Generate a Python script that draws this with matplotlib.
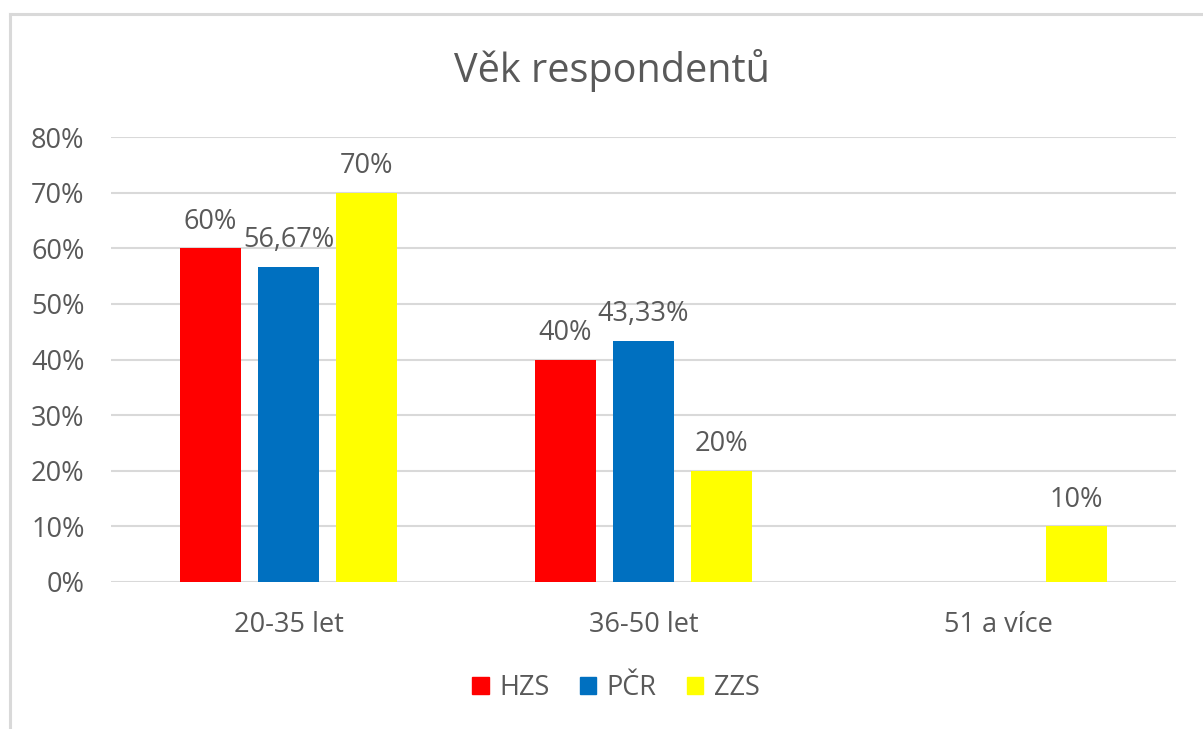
import matplotlib.pyplot as plt
from matplotlib.patches import Rectangle
import matplotlib.ticker as mticker

plt.rcParams['font.family'] = ['Open Sans', 'DejaVu Sans']

categories = ['20-35 let', '36-50 let', '51 a více']
series = ['HZS', 'PČR', 'ZZS']
hzs = [60.0, 40.0, 0.0]
pcr = [56.67, 43.33, 0.0]
zzs = [70.0, 20.0, 10.0]
colors = ['#ff0000', '#0070c0', '#ffff00']

txt = '#595959'
grid = '#d9d9d9'

fig = plt.figure(figsize=(12.03, 7.29), dpi=100)
W, H = 1203, 729
ax = fig.add_axes([111 / W, (H - 582) / H, (1176 - 111) / W, (582 - 137) / H])

# chart border (only left and top visible in the crop)
fig.add_artist(plt.Line2D([9.5 / W, 9.5 / W], [0, (H - 13.5) / H], color=grid, lw=2.2,
                          transform=fig.transFigure))
fig.add_artist(plt.Line2D([9.5 / W, 1], [(H - 13.5) / H, (H - 13.5) / H], color=grid, lw=2.2,
                          transform=fig.transFigure))

width = 0.172
step = 0.22
for i, (name, vals, c) in enumerate(zip(series, [hzs, pcr, zzs], colors)):
    xs = [k + (i - 1) * step for k in range(len(categories))]
    ax.bar(xs, vals, width=width, color=c, zorder=3, label=name)
    for x, v in zip(xs, vals):
        if v > 0:
            s = ('%g' % v).replace('.', ',') + '%'
            ax.annotate(s, (x, v), xytext=(0, 9), textcoords='offset points',
                        ha='center', va='bottom', fontsize=19.5, color=txt)

ax.set_xlim(-0.5, 2.5)
ax.set_ylim(0, 80)
ax.set_yticks(range(0, 81, 10))
ax.yaxis.set_major_formatter(mticker.FuncFormatter(lambda v, p: '%d%%' % v))
ax.set_xticks(range(len(categories)))
ax.set_xticklabels(categories)
ax.tick_params(length=0, labelsize=19.5, colors=txt)
ax.tick_params(axis='y', pad=19)
ax.tick_params(axis='x', pad=21)
ax.grid(axis='y', color=grid, lw=1.5, zorder=0)
for sp in ax.spines.values():
    sp.set_visible(False)

fig.text(612 / W, (H - 70) / H, 'Věk respondentů', ha='center', va='center',
         fontsize=28.5, color=txt)

handles = [Rectangle((0, 0), 1, 1, color=c) for c in colors]
fig.legend(handles, series, loc='center', bbox_to_anchor=(616 / W, (H - 688) / H),
           ncol=3, frameon=False, fontsize=19.5, labelcolor=txt,
           handlelength=0.6, handleheight=0.6, handletextpad=0.4, columnspacing=1.1)

fig.savefig('out.png', dpi=100, facecolor='white')
